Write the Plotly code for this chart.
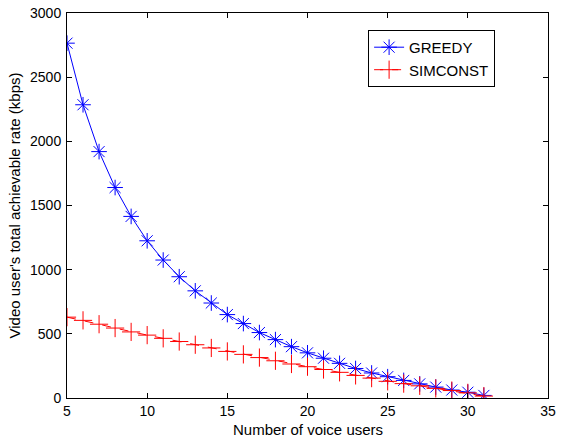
import plotly.graph_objects as go

users = list(range(5, 32))
greedy = [2765, 2285, 1920, 1640, 1415, 1225, 1075, 945, 835, 740, 650, 580, 510, 455,
          400, 352, 310, 270, 230, 195, 166, 137, 110, 85, 62, 45, 20]
simconst = [630, 605, 575, 545, 515, 490, 465, 440, 415, 390, 363, 340, 315, 290,
            265, 244, 222, 200, 176, 155, 130, 112, 95, 75, 58, 40, 15]

FONT = "Liberation Sans, Arial, Helvetica"

fig = go.Figure()
fig.add_trace(go.Scatter(
    x=users, y=greedy, name="GREEDY", mode="lines+markers",
    line=dict(color="#0000ff", width=1),
    marker=dict(symbol="asterisk-open", size=13, color="#0000ff",
                line=dict(color="#0000ff", width=1)),
))
fig.add_trace(go.Scatter(
    x=users, y=simconst, name="SIMCONST", mode="lines+markers",
    line=dict(color="#ff0000", width=1, dash="dash"),
    marker=dict(symbol="cross-thin-open", size=13, color="#ff0000",
                line=dict(color="#ff0000", width=1)),
))

axis_common = dict(
    showgrid=False, zeroline=False, showline=True, mirror="ticks",
    linecolor="black", linewidth=1, ticks="inside", ticklen=5,
    tickcolor="black", tickfont=dict(family=FONT, size=14, color="black"),
    automargin=False,
)
fig.update_xaxes(range=[5, 35], tickvals=[5, 10, 15, 20, 25, 30, 35],
                 ticklabelstandoff=0,
                 **axis_common)
fig.update_yaxes(range=[0, 3000], tickvals=[0, 500, 1000, 1500, 2000, 2500, 3000],
                 ticklabelstandoff=2,
                 title=dict(text="Video user's total achievable rate (kbps)", standoff=5,
                            font=dict(family=FONT, size=15, color="black")),
                 **axis_common)

fig.add_annotation(
    text="Number of voice users", xref="paper", yref="paper",
    x=0.5, y=-0.081, xanchor="center", yanchor="middle", showarrow=False,
    font=dict(family=FONT, size=15, color="black"),
)

fig.update_layout(
    width=563, height=437,
    margin=dict(l=67, r=15, t=13, b=39, autoexpand=False),
    paper_bgcolor="white", plot_bgcolor="white",
    showlegend=True,
    legend=dict(x=0.626, y=0.956, xanchor="left", yanchor="top",
                bordercolor="black", borderwidth=1, bgcolor="white",
                font=dict(family=FONT, size=15, color="black"),
                tracegroupgap=0, itemwidth=30),
)

fig.write_html("out.html")
